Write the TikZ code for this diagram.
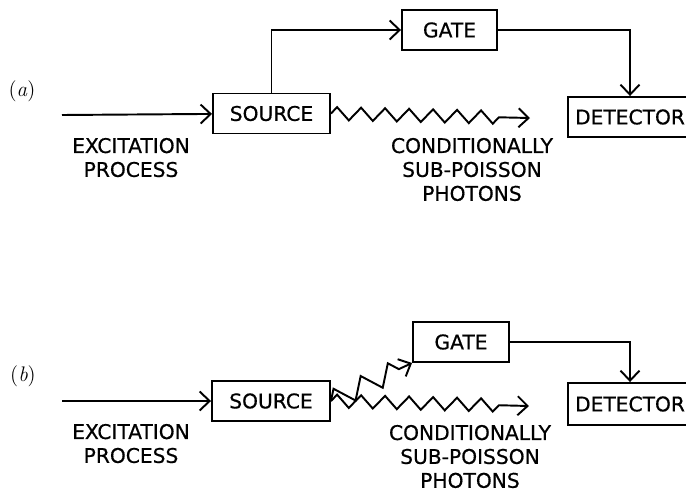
\documentclass[tikz,border=0pt]{standalone}
\usepackage{fontspec}
\newfontfamily\lettering[FakeBold=0.6]{DejaVu Sans}
\usetikzlibrary{arrows.meta,decorations.pathmorphing}
\begin{document}
\begin{tikzpicture}[x=0.2mm,y=-0.2mm,line width=1.1pt,
  >={Straight Barb[length=2mm,width=3.8mm]},
  box/.style={draw,inner sep=0pt,minimum height=8mm,
    font=\lettering\fontsize{11.5}{13.6}\selectfont},
  txt/.style={anchor=north,inner sep=0pt,align=center,
    font=\lettering\fontsize{11.5}{13.6}\selectfont},
  photon/.style={decorate,decoration={zigzag,segment length=4.8mm,
    amplitude=1.3mm,post length=5.5mm}}]
  \useasboundingbox (0,0) rectangle (686,491);
  \node (a) at (22,91) {\fontsize{12}{14}\selectfont(\textit{a})};
  \coordinate (E) at (62,115);
  \coordinate (P) at (530,118);
  \node[box,minimum width=23.4mm] (S) at (271.5,113.5) {SOURCE};
  \node[box,minimum width=19mm] (G) at (449.5,30) {GATE};
  \node[box,minimum width=24.8mm] (D) at (630,117) {DETECTOR};
  \node[txt] (X) at (131,137) {EXCITATION\\PROCESS};
  \node[txt] (C) at (472,137) {CONDITIONALLY\\SUB-POISSON\\PHOTONS};
  \draw[->] (E) -- (S);
  \draw[->] (S.north) -- (S.north |- G.west) -- (G.west);
  \draw[->] (G.east) -| (D.north);
  \draw[->,photon] (S.east) -- (P);
  \begin{scope}[shift={(0,287)}]
  \node (b) at (23,89) {\fontsize{12}{14}\selectfont(\textit{b})};
  \coordinate (E') at (62,114);
  \coordinate (P') at (529,119);
  \node[box,minimum width=23.6mm] (S') at (271,114) {SOURCE};
  \node[box,minimum width=19.2mm] (G') at (461,55) {GATE};
  \node[box,minimum width=24.8mm,minimum height=8.4mm] (D') at (630,117) {DETECTOR};
  \node[txt] (X') at (131,136) {EXCITATION\\PROCESS};
  \node[txt] (C') at (470,137) {CONDITIONALLY\\SUB-POISSON\\PHOTONS};
  \draw[->] (E') -- (S');
  \draw[->] (G'.east) -| (D'.north);
  \draw[->,photon] (S'.east) -- (P');
  \draw[->,photon,decoration={segment length=6mm,amplitude=2mm,post length=2.6mm}]
    (S'.east) -- (G'.south west);
  \end{scope}
\end{tikzpicture}
\end{document}
